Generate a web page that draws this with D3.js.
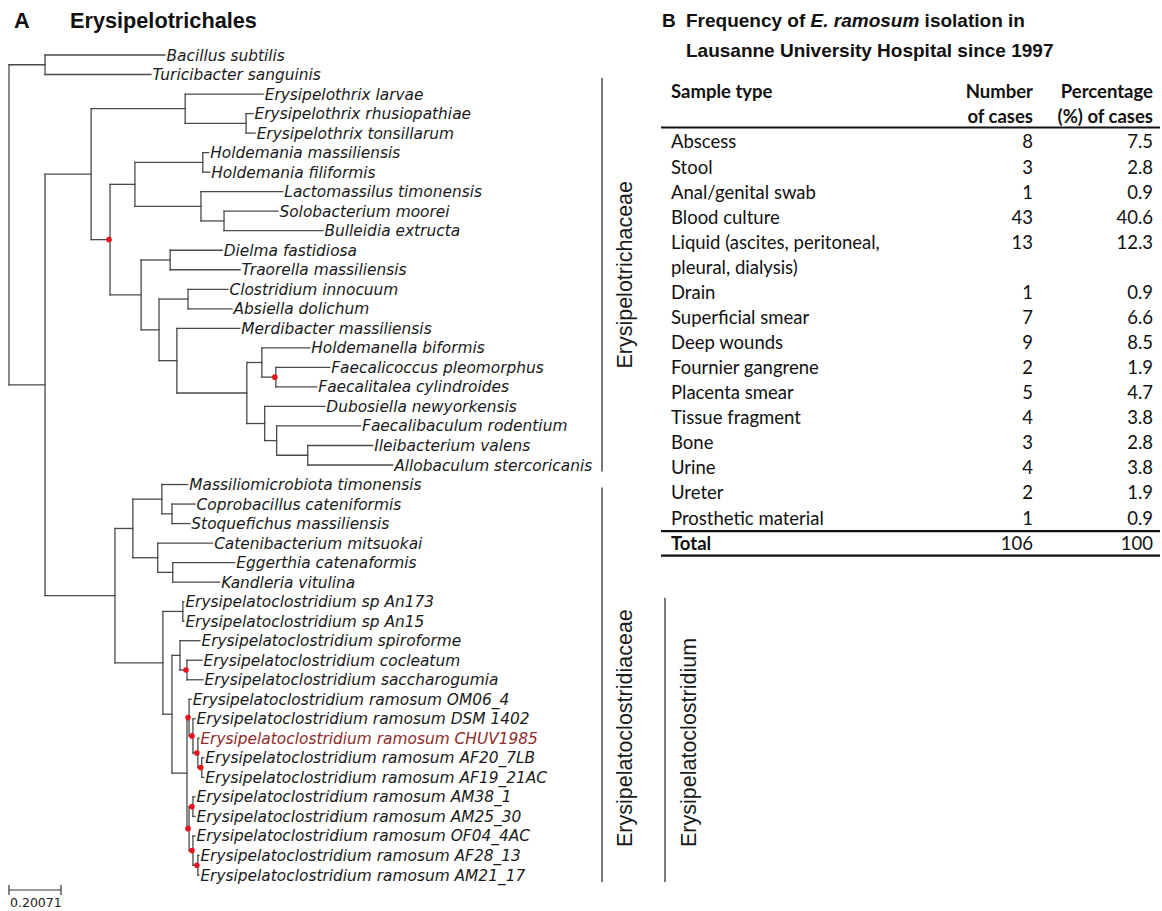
<!DOCTYPE html>
<html><head><meta charset="utf-8">
<script src="https://cdn.jsdelivr.net/npm/d3@7"></script>
<style>body{margin:0;background:#fff} svg{display:block}</style>
</head><body>
<svg id="c" width="1162" height="911"></svg>
<script>
// ---------------- DATA ----------------
// Phylogeny as edges: [node, parent, branch length]
const treeEdges = [
  ["n0", null, 0],
  ["nOut", "n0", 0.139],
  ["Bacillus subtilis", "nOut", 0.463],
  ["Turicibacter sanguinis", "nOut", 0.409],
  ["nIn", "n0", 0.139],
  ["nEry", "nIn", 0.178],
  ["nErx", "nEry", 0.363],
  ["Erysipelothrix larvae", "nErx", 0.301],
  ["nErx2", "nErx", 0.235],
  ["Erysipelothrix rhusiopathiae", "nErx2", 0.027],
  ["Erysipelothrix tonsillarum", "nErx2", 0.035],
  ["nA", "nEry", 0.073],
  ["nB", "nA", 0.096],
  ["nHol", "nB", 0.262],
  ["Holdemania massiliensis", "nHol", 0.023],
  ["Holdemania filiformis", "nHol", 0.027],
  ["nC", "nB", 0.255],
  ["Lactomassilus timonensis", "nC", 0.316],
  ["nD", "nC", 0.089],
  ["Solobacterium moorei", "nD", 0.208],
  ["Bulleidia extructa", "nD", 0.382],
  ["nE", "nA", 0.120],
  ["nF", "nE", 0.112],
  ["Dielma fastidiosa", "nF", 0.201],
  ["Traorella massiliensis", "nF", 0.270],
  ["nG", "nE", 0.069],
  ["nH", "nG", 0.112],
  ["Clostridium innocuum", "nH", 0.154],
  ["Absiella dolichum", "nH", 0.170],
  ["nI", "nG", 0.069],
  ["Merdibacter massiliensis", "nI", 0.243],
  ["nJ", "nI", 0.270],
  ["nK", "nJ", 0.058],
  ["Holdemanella biformis", "nK", 0.185],
  ["nL", "nK", 0.054],
  ["Faecalicoccus pleomorphus", "nL", 0.208],
  ["Faecalitalea cylindroides", "nL", 0.158],
  ["nM", "nJ", 0.069],
  ["Dubosiella newyorkensis", "nM", 0.232],
  ["nN", "nM", 0.046],
  ["Faecalibaculum rodentium", "nN", 0.324],
  ["nO", "nN", 0.120],
  ["Ileibacterium valens", "nO", 0.251],
  ["Allobaculum stercoricanis", "nO", 0.328],
  ["nP0", "nIn", 0.270],
  ["nP", "nP0", 0.069],
  ["nQ", "nP", 0.112],
  ["Massiliomicrobiota timonensis", "nQ", 0.100],
  ["nR", "nQ", 0.039],
  ["Coprobacillus cateniformis", "nR", 0.089],
  ["Stoquefichus massiliensis", "nR", 0.069],
  ["nS", "nP", 0.096],
  ["Catenibacterium mitsuokai", "nS", 0.212],
  ["nT", "nS", 0.058],
  ["Eggerthia catenaformis", "nT", 0.239],
  ["Kandleria vitulina", "nT", 0.181],
  ["nGen", "nP0", 0.185],
  ["nU", "nGen", 0.077],
  ["Erysipelatoclostridium sp An173", "nU", 0.004],
  ["Erysipelatoclostridium sp An15", "nU", 0.004],
  ["nV", "nGen", 0.035],
  ["nW", "nV", 0.031],
  ["Erysipelatoclostridium spiroforme", "nW", 0.077],
  ["nX", "nW", 0.027],
  ["Erysipelatoclostridium cocleatum", "nX", 0.058],
  ["Erysipelatoclostridium saccharogumia", "nX", 0.062],
  ["nY", "nV", 0.058],
  ["g1", "nY", 0.008],
  ["Erysipelatoclostridium ramosum OM06_4", "g1", 0.008],
  ["g1b", "g1", 0.015],
  ["Erysipelatoclostridium ramosum DSM 1402", "g1b", 0.008],
  ["g1c", "g1b", 0.019],
  ["Erysipelatoclostridium ramosum CHUV1985", "g1c", 0.004],
  ["g1d", "g1c", 0.015],
  ["Erysipelatoclostridium ramosum AF20_7LB", "g1d", 0.008],
  ["Erysipelatoclostridium ramosum AF19_21AC", "g1d", 0.008],
  ["g2", "nY", 0.008],
  ["g2a", "g2", 0.015],
  ["Erysipelatoclostridium ramosum AM38_1", "g2a", 0.008],
  ["Erysipelatoclostridium ramosum AM25_30", "g2a", 0.008],
  ["g2b", "g2", 0.015],
  ["Erysipelatoclostridium ramosum OF04_4AC", "g2b", 0.008],
  ["g2c", "g2b", 0.019],
  ["Erysipelatoclostridium ramosum AF28_13", "g2c", 0.004],
  ["Erysipelatoclostridium ramosum AM21_17", "g2c", 0.004]
];
// nodes marked with a red dot
const markedNodes = ["nA", "nL", "nX", "g1", "g1b", "g1c", "g1d", "g2", "g2a", "g2b", "g2c"];
const highlightLeaf = "Erysipelatoclostridium ramosum CHUV1985";
const cladeNames = ["Erysipelotrichaceae", "Erysipelatoclostridiaceae", "Erysipelatoclostridium"];
const cladeFirstLeaf = ["Erysipelothrix larvae", "Massiliomicrobiota timonensis", "Erysipelatoclostridium sp An173"];
const cladeLastLeaf = ["Allobaculum stercoricanis", "Erysipelatoclostridium ramosum AM21_17", "Erysipelatoclostridium ramosum AM21_17"];
const scaleBarValue = 0.20071;

const tableHeaderLine1 = ["Sample type", "Number", "Percentage"];
const tableHeaderLine2 = ["", "of cases", "(%) of cases"];
const sampleTypes = ["Abscess", "Stool", "Anal/genital swab", "Blood culture",
  "Liquid (ascites, peritoneal, pleural, dialysis)", "Drain", "Superficial smear",
  "Deep wounds", "Fournier gangrene", "Placenta smear", "Tissue fragment", "Bone",
  "Urine", "Ureter", "Prosthetic material"];
const numberOfCases = [8, 3, 1, 43, 13, 1, 7, 9, 2, 5, 4, 3, 4, 2, 1];
const percentOfCases = ["7.5", "2.8", "0.9", "40.6", "12.3", "0.9", "6.6", "8.5", "1.9", "4.7", "3.8", "2.8", "3.8", "1.9", "0.9"];
const totalRow = ["Total", "106", "100"];

// ---------------- DRAW ----------------
const svg = d3.select("#c");
const treeFont = "'DejaVu Sans', Verdana, sans-serif";
const arial = "'Liberation Sans', Arial, sans-serif";
const tableFont = "Lato, 'Open Sans', sans-serif";

// titles
svg.append("text").attr("x", 14).attr("y", 28).attr("font-family", arial)
  .attr("font-weight", "bold").attr("font-size", 21.7).attr("fill", "#111").text("A");
svg.append("text").attr("x", 70).attr("y", 28).attr("font-family", arial)
  .attr("font-weight", "bold").attr("font-size", 21.7).attr("fill", "#111").text("Erysipelotrichales");

// tree
const root = d3.stratify().id(d => d[0]).parentId(d => d[1])(treeEdges);
root.eachBefore(d => { d.dist = d.parent ? d.parent.dist + d.data[2] : 0; });
const leaves = root.leaves();
const yLeaf = d3.scalePoint().domain(leaves.map(d => d.id)).range([55, 875]);
const x = d3.scaleLinear().domain([0, scaleBarValue]).range([9, 61]);
leaves.forEach(d => d.y = yLeaf(d.id));
root.eachAfter(d => {
  if (d.children) d.y = (d.children[0].y + d.children[d.children.length - 1].y) / 2;
});

const gTree = svg.append("g");
const lineColor = "#4a4a4a";
// horizontal branches
gTree.selectAll("line.h").data(root.descendants().slice(1)).join("line")
  .attr("x1", d => x(d.parent.dist)).attr("x2", d => x(d.dist))
  .attr("y1", d => d.y).attr("y2", d => d.y)
  .attr("stroke", lineColor).attr("stroke-width", 1.3).attr("stroke-linecap", "square");
// vertical connectors
gTree.selectAll("line.v").data(root.descendants().filter(d => d.children)).join("line")
  .attr("x1", d => x(d.dist)).attr("x2", d => x(d.dist))
  .attr("y1", d => d.children[0].y).attr("y2", d => d.children[d.children.length - 1].y)
  .attr("stroke", lineColor).attr("stroke-width", 1.3).attr("stroke-linecap", "square");
// red dots
gTree.selectAll("circle").data(root.descendants().filter(d => markedNodes.includes(d.id))).join("circle")
  .attr("cx", d => x(d.dist) - 1).attr("cy", d => d.y).attr("r", 2.8).attr("fill", "#e8141c");
// leaf labels
gTree.selectAll("text.leaf").data(leaves).join("text")
  .attr("x", d => x(d.dist) + 1.5).attr("y", d => d.y).attr("dy", "0.36em")
  .attr("font-family", treeFont).attr("font-style", "italic").attr("font-size", 15.4)
  .attr("fill", d => d.id === highlightLeaf ? "#8e2b2b" : "#1a1a1a")
  .text(d => d.id);

// clade bars
const barTop = [-16, 3, -4], barBottom = [6.5, 7, 7];
const barX = [602, 602, 665];
const labelX = [632, 632, 696];
cladeNames.forEach((name, i) => {
  const y1 = yLeaf(cladeFirstLeaf[i]) + barTop[i];
  const y2 = yLeaf(cladeLastLeaf[i]) + barBottom[i];
  svg.append("line").attr("x1", barX[i]).attr("x2", barX[i]).attr("y1", y1).attr("y2", y2)
    .attr("stroke", "#333").attr("stroke-width", 1.3);
  const t = svg.append("text").attr("font-family", arial).attr("font-size", 21.5).attr("fill", "#1a1a1a").text(name);
  if (i === 0) {
    t.attr("transform", `translate(${labelX[i]},${(y1 + y2) / 2}) rotate(-90)`).attr("text-anchor", "middle");
  } else {
    t.attr("transform", `translate(${labelX[i]},${y2 - 35}) rotate(-90)`).attr("text-anchor", "start");
  }
});

// scale bar
const sbY = 890;
const sb = svg.append("g").attr("stroke", "#333").attr("stroke-width", 1.2);
sb.append("line").attr("x1", x(0)).attr("x2", x(scaleBarValue)).attr("y1", sbY).attr("y2", sbY);
sb.append("line").attr("x1", x(0)).attr("x2", x(0)).attr("y1", sbY - 5).attr("y2", sbY + 5);
sb.append("line").attr("x1", x(scaleBarValue)).attr("x2", x(scaleBarValue)).attr("y1", sbY - 5).attr("y2", sbY + 5);
svg.append("text").attr("x", 10).attr("y", 907).attr("font-family", treeFont).attr("font-size", 12.5)
  .attr("fill", "#222").text(String(scaleBarValue));

// ---------------- TABLE ----------------
const tB = svg.append("g").attr("font-family", arial).attr("font-weight", "bold").attr("font-size", 19).attr("fill", "#111");
tB.append("text").attr("x", 662).attr("y", 27).text("B");
const l1 = tB.append("text").attr("x", 686).attr("y", 27);
l1.append("tspan").text("Frequency of ");
l1.append("tspan").attr("font-style", "italic").text("E. ramosum");
l1.append("tspan").text(" isolation in");
tB.append("text").attr("x", 686).attr("y", 57).text("Lausanne University Hospital since 1997");

const colX = [671, 1033, 1153];
const colAnchor = ["start", "end", "end"];
const tbl = svg.append("g").attr("font-family", tableFont).attr("font-size", 18.5).attr("fill", "#111");
const rowScale = d3.scaleLinear().domain([0, 1]).range([142, 167.07]);
// header
tableHeaderLine1.forEach((h, j) => {
  tbl.append("text").attr("x", colX[j]).attr("y", 92).attr("dy", "0.35em").attr("text-anchor", colAnchor[j])
    .attr("font-weight", "bold").text(h);
  if (tableHeaderLine2[j]) tbl.append("text").attr("x", colX[j]).attr("y", 117).attr("dy", "0.35em")
    .attr("text-anchor", colAnchor[j]).attr("font-weight", "bold").text(tableHeaderLine2[j]);
});
const rule = y => svg.append("line").attr("x1", 661).attr("x2", 1160).attr("y1", y).attr("y2", y)
  .attr("stroke", "#111").attr("stroke-width", 2.2);
rule(127.5);

// rows with simple word wrap
let r = 0;
const maxLabelW = 245;
sampleTypes.forEach((label, i) => {
  const words = label.split(" ");
  let lines = [], cur = "";
  const probe = tbl.append("text").attr("visibility", "hidden");
  words.forEach(w => {
    const test = cur ? cur + " " + w : w;
    probe.text(test);
    if (probe.node().getComputedTextLength() > maxLabelW && cur) { lines.push(cur); cur = w; }
    else cur = test;
  });
  lines.push(cur);
  probe.remove();
  const y0 = rowScale(r);
  lines.forEach((ln, k) => {
    tbl.append("text").attr("x", colX[0]).attr("y", rowScale(r + k)).attr("dy", "0.35em").text(ln);
  });
  tbl.append("text").attr("x", colX[1]).attr("y", y0).attr("dy", "0.35em").attr("text-anchor", "end").text(numberOfCases[i]);
  tbl.append("text").attr("x", colX[2]).attr("y", y0).attr("dy", "0.35em").attr("text-anchor", "end").text(percentOfCases[i]);
  r += lines.length;
});
const yTotalTop = (rowScale(r - 1) + rowScale(r)) / 2 + 0.5;
rule(yTotalTop);
totalRow.forEach((v, j) => {
  tbl.append("text").attr("x", colX[j]).attr("y", rowScale(r)).attr("dy", "0.35em")
    .attr("text-anchor", colAnchor[j]).attr("font-weight", j === 0 ? "bold" : "normal").text(v);
});
rule(rowScale(r) + 12.5);
</script>
</body></html>
